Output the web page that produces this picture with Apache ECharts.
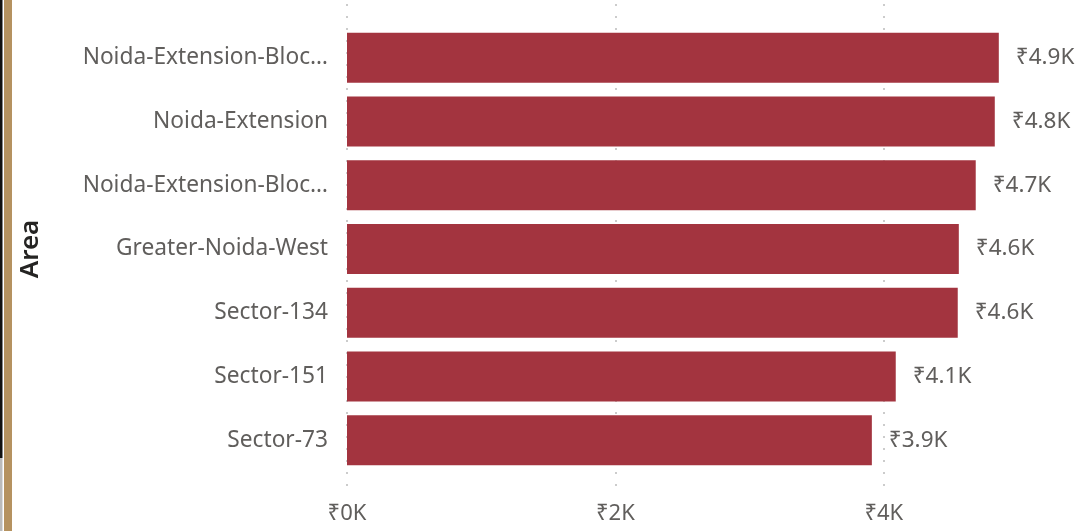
<!DOCTYPE html>
<html>
<head>
<meta charset="utf-8">
<script src="https://cdn.jsdelivr.net/npm/echarts@6/dist/echarts.min.js"></script>
<style>
html,body{margin:0;padding:0;background:#fff;}
#chart{width:1083px;height:531px;}
</style>
</head>
<body>
<div id="chart"></div>
<script>
const categories = [
  "Noida-Extension-Bloc\u2026",
  "Noida-Extension",
  "Noida-Extension-Bloc\u2026",
  "Greater-Noida-West",
  "Sector-134",
  "Sector-151",
  "Sector-73"
];
const values = [4857, 4827, 4685, 4559, 4551, 4089, 3911];
const xTicks = [0, 2000, 4000];
const axisTitle = "Area";

function fmtK(v, dec) {
  return "\u20B9" + (v / 1000).toFixed(dec) + "K";
}

const FONT = "'Noto Sans', 'DejaVu Sans', sans-serif";
const chart = echarts.init(document.getElementById('chart'), null, {renderer: 'canvas'});
const option = {
  animation: false,
  backgroundColor: '#ffffff',
  grid: [
    {left: 347, right: 65, top: 4, bottom: 35, containLabel: false},
    {left: 347, right: 65, top: 26, bottom: 59, containLabel: false}
  ],
  xAxis: [
    {
      gridIndex: 0, type: 'value', min: 0, max: 5000, interval: 2000,
      axisLine: {show: false}, axisTick: {show: false},
      splitLine: {show: true, showMaxLine: false, lineStyle: {color: '#cccccc', width: 2, type: [2, 10]}},
      axisLabel: {
        showMaxLabel: false, margin: 7, color: '#605E5C', fontSize: 22, fontFamily: FONT,
        formatter: v => xTicks.includes(v) ? fmtK(v, 0) : ''
      }
    },
    {
      gridIndex: 1, type: 'value', min: 0, max: 5000, show: false
    }
  ],
  yAxis: [
    {gridIndex: 0, type: 'category', data: categories, show: false, inverse: true},
    {
      gridIndex: 1, type: 'category', data: categories, inverse: true,
      axisLine: {show: false}, axisTick: {show: false},
      axisLabel: {margin: 19, color: '#605E5C', fontSize: 22.7, fontFamily: FONT, padding: [5, 0, 0, 0]},
      name: axisTitle, nameLocation: 'middle', nameGap: 303,
      nameTextStyle: {color: '#252423', fontSize: 26, fontWeight: 600, fontFamily: FONT}
    }
  ],
  series: [{
    type: 'bar', xAxisIndex: 1, yAxisIndex: 1,
    data: values, barWidth: 50,
    itemStyle: {color: '#A3343F'},
    label: {
      show: true, position: 'right', distance: 17,
      color: '#605E5C', fontSize: 22.5, fontFamily: FONT, padding: [4, 0, 0, 0],
      formatter: p => fmtK(p.value, 1)
    }
  }],
  graphic: [
    {type: 'rect', left: 0, top: 0, shape: {width: 2.5, height: 458}, style: {fill: '#111'}},
    {type: 'rect', left: 0, top: 458, shape: {width: 2.5, height: 73}, style: {fill: '#bbb'}},
    {type: 'rect', left: 4, top: 0, shape: {width: 8, height: 531}, style: {fill: '#B59260'}}
  ]
};
chart.setOption(option);
</script>
</body>
</html>
